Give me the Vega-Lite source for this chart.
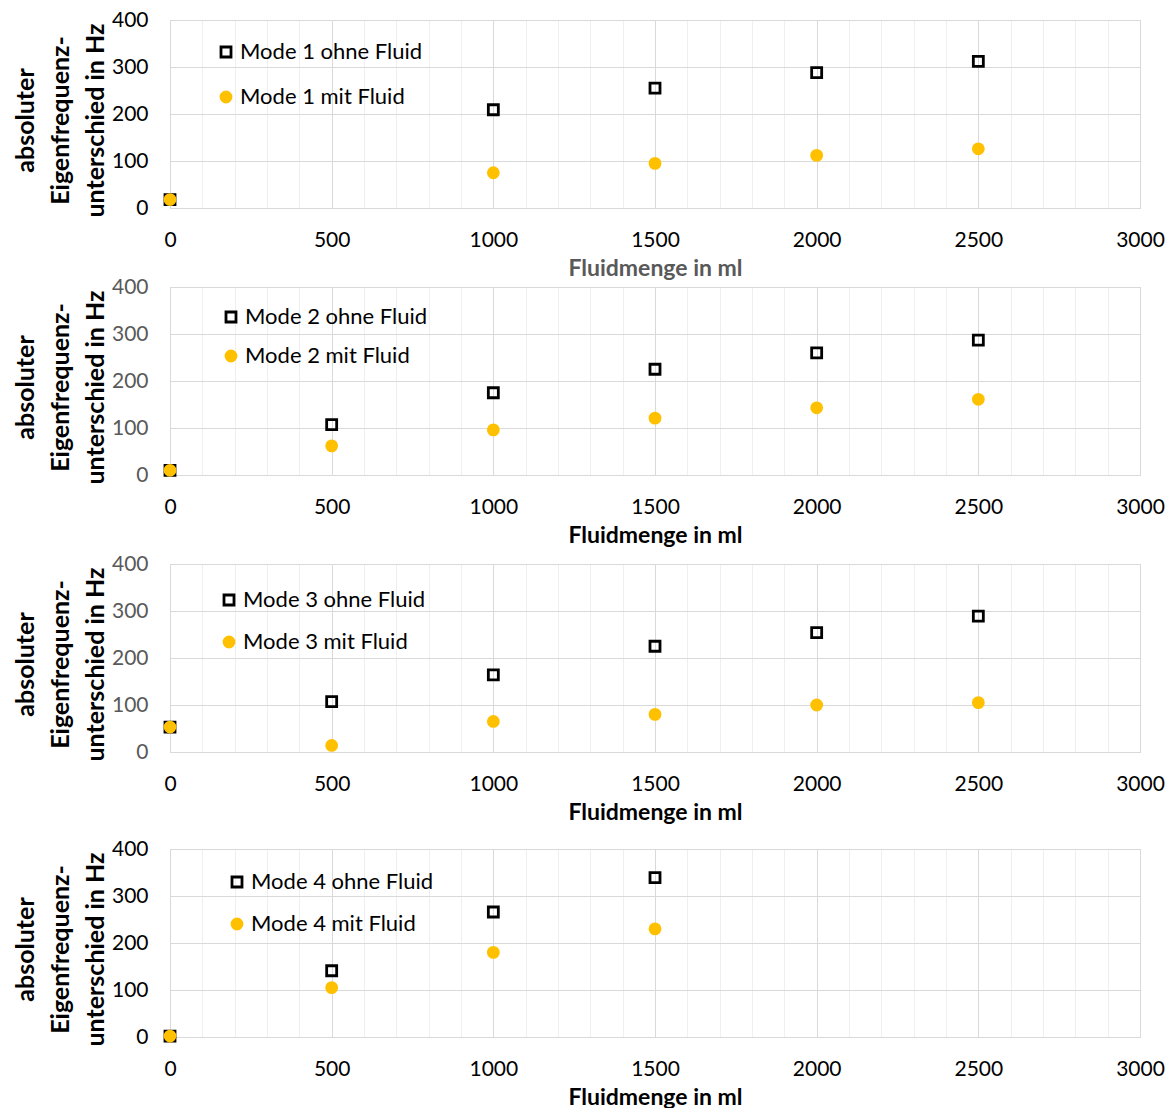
{
  "$schema": "https://vega.github.io/schema/vega-lite/v6.json",
  "padding": {"left": 12, "top": 8, "right": 4, "bottom": 0},
  "background": "white",
  "config": {
    "font": "Lato",
    "view": {"stroke": "#d9d9d9", "strokeWidth": 1},
    "axis": {
      "labelFont": "Lato",
      "labelFontSize": 21,
      "labelColor": "#000000",
      "labelOverlap": false,
      "labelFlush": false,
      "ticks": false,
      "domain": false,
      "titleFont": "Lato",
      "titleFontWeight": "bold",
      "titleColor": "#000000"
    },
    "axisX": {
      "values": [0,100,200,300,400,500,600,700,800,900,1000,1100,1200,1300,1400,1500,1600,1700,1800,1900,2000,2100,2200,2300,2400,2500,2600,2700,2800,2900,3000],
      "labelExpr": "datum.value % 500 === 0 ? format(datum.value, 'd') : ''",
      "gridColor": {"condition": {"test": "datum.value % 500 === 0", "value": "#d9d9d9"}, "value": "#efefef"},
      "labelPadding": 21,
      "titleFontSize": 23,
      "titlePadding": 7
    },
    "axisY": {
      "values": [0,20,40,60,80,100,120,140,160,180,200,220,240,260,280,300,320,340,360,380,400],
      "labelExpr": "datum.value % 100 === 0 ? datum.label : ''",
      "gridColor": {"condition": {"test": "datum.value % 100 === 0", "value": "#d9d9d9"}, "value": "#efefef"},
      "labelPadding": 22,
      "titleFontSize": 25,
      "titleLineHeight": 35,
      "titlePadding": 3,
      "titleY": 100
    },
    "legend": {
      "orient": "none",
      "title": null,
      "labelFont": "Lato",
      "labelFontSize": 22,
      "labelColor": "#000000",
      "labelLimit": 0,
      "symbolSize": 100,
      "symbolStrokeWidth": 2.8,
      "labelOffset": 3,
      "padding": 0
    }
  },
  "data": {
    "values": [
      {"panel": 1, "series": "Mode 1 ohne Fluid", "ml": 0, "hz": 18},
      {"panel": 1, "series": "Mode 1 ohne Fluid", "ml": 1000, "hz": 209},
      {"panel": 1, "series": "Mode 1 ohne Fluid", "ml": 1500, "hz": 255},
      {"panel": 1, "series": "Mode 1 ohne Fluid", "ml": 2000, "hz": 288},
      {"panel": 1, "series": "Mode 1 ohne Fluid", "ml": 2500, "hz": 312},
      {"panel": 1, "series": "Mode 1 mit Fluid", "ml": 0, "hz": 18},
      {"panel": 1, "series": "Mode 1 mit Fluid", "ml": 1000, "hz": 75},
      {"panel": 1, "series": "Mode 1 mit Fluid", "ml": 1500, "hz": 95},
      {"panel": 1, "series": "Mode 1 mit Fluid", "ml": 2000, "hz": 112},
      {"panel": 1, "series": "Mode 1 mit Fluid", "ml": 2500, "hz": 126},
      {"panel": 2, "series": "Mode 2 ohne Fluid", "ml": 0, "hz": 10},
      {"panel": 2, "series": "Mode 2 ohne Fluid", "ml": 500, "hz": 107},
      {"panel": 2, "series": "Mode 2 ohne Fluid", "ml": 1000, "hz": 175},
      {"panel": 2, "series": "Mode 2 ohne Fluid", "ml": 1500, "hz": 225},
      {"panel": 2, "series": "Mode 2 ohne Fluid", "ml": 2000, "hz": 260},
      {"panel": 2, "series": "Mode 2 ohne Fluid", "ml": 2500, "hz": 287},
      {"panel": 2, "series": "Mode 2 mit Fluid", "ml": 0, "hz": 10},
      {"panel": 2, "series": "Mode 2 mit Fluid", "ml": 500, "hz": 62},
      {"panel": 2, "series": "Mode 2 mit Fluid", "ml": 1000, "hz": 96},
      {"panel": 2, "series": "Mode 2 mit Fluid", "ml": 1500, "hz": 121},
      {"panel": 2, "series": "Mode 2 mit Fluid", "ml": 2000, "hz": 143},
      {"panel": 2, "series": "Mode 2 mit Fluid", "ml": 2500, "hz": 161},
      {"panel": 3, "series": "Mode 3 ohne Fluid", "ml": 0, "hz": 53},
      {"panel": 3, "series": "Mode 3 ohne Fluid", "ml": 500, "hz": 107},
      {"panel": 3, "series": "Mode 3 ohne Fluid", "ml": 1000, "hz": 164},
      {"panel": 3, "series": "Mode 3 ohne Fluid", "ml": 1500, "hz": 225},
      {"panel": 3, "series": "Mode 3 ohne Fluid", "ml": 2000, "hz": 254},
      {"panel": 3, "series": "Mode 3 ohne Fluid", "ml": 2500, "hz": 289},
      {"panel": 3, "series": "Mode 3 mit Fluid", "ml": 0, "hz": 53},
      {"panel": 3, "series": "Mode 3 mit Fluid", "ml": 500, "hz": 14},
      {"panel": 3, "series": "Mode 3 mit Fluid", "ml": 1000, "hz": 65},
      {"panel": 3, "series": "Mode 3 mit Fluid", "ml": 1500, "hz": 80},
      {"panel": 3, "series": "Mode 3 mit Fluid", "ml": 2000, "hz": 100},
      {"panel": 3, "series": "Mode 3 mit Fluid", "ml": 2500, "hz": 105},
      {"panel": 4, "series": "Mode 4 ohne Fluid", "ml": 0, "hz": 2},
      {"panel": 4, "series": "Mode 4 ohne Fluid", "ml": 500, "hz": 141},
      {"panel": 4, "series": "Mode 4 ohne Fluid", "ml": 1000, "hz": 266},
      {"panel": 4, "series": "Mode 4 ohne Fluid", "ml": 1500, "hz": 339},
      {"panel": 4, "series": "Mode 4 mit Fluid", "ml": 0, "hz": 2},
      {"panel": 4, "series": "Mode 4 mit Fluid", "ml": 500, "hz": 105},
      {"panel": 4, "series": "Mode 4 mit Fluid", "ml": 1000, "hz": 180},
      {"panel": 4, "series": "Mode 4 mit Fluid", "ml": 1500, "hz": 230}
    ]
  },
  "bounds": "full",
  "spacing": 4,
  "resolve": {
    "scale": {"x": "independent", "y": "independent", "shape": "independent", "fill": "independent", "stroke": "independent"},
    "legend": {"shape": "independent", "fill": "independent", "stroke": "independent"}
  },
  "vconcat": [
    {
      "bounds": "flush",
      "spacing": 79,
      "resolve": {
        "scale": {"x": "independent", "y": "independent", "shape": "independent", "fill": "independent", "stroke": "independent"},
        "legend": {"shape": "independent", "fill": "independent", "stroke": "independent"}
      },
      "vconcat": [
        {
          "width": 970,
          "height": 188,
          "transform": [{"filter": "datum.panel === 1"}],
          "mark": {"type": "point", "filled": true, "size": 100, "strokeWidth": 2.8, "opacity": 1},
          "encoding": {
            "x": {"field": "ml", "type": "quantitative", "scale": {"domain": [0, 3000], "nice": false},
                  "axis": {"title": "Fluidmenge in ml", "titleColor": "#595959"}},
            "y": {"field": "hz", "type": "quantitative", "scale": {"domain": [0, 400], "nice": false},
                  "axis": {"title": ["absoluter", "Eigenfrequenz-", "unterschied in Hz"]}},
            "shape": {"field": "series", "type": "nominal",
                      "scale": {"domain": ["Mode 1 ohne Fluid", "Mode 1 mit Fluid"], "range": ["square", "circle"]},
                      "legend": {"legendX": 45, "legendY": 21, "rowPadding": 23}},
            "fill": {"field": "series", "type": "nominal",
                     "scale": {"domain": ["Mode 1 ohne Fluid", "Mode 1 mit Fluid"], "range": ["transparent", "#ffc000"]}},
            "stroke": {"field": "series", "type": "nominal",
                       "scale": {"domain": ["Mode 1 ohne Fluid", "Mode 1 mit Fluid"], "range": ["#000000", "#ffc000"]}}
          }
        },
        {
          "width": 970,
          "height": 188,
          "transform": [{"filter": "datum.panel === 2"}],
          "mark": {"type": "point", "filled": true, "size": 100, "strokeWidth": 2.8, "opacity": 1},
          "encoding": {
            "x": {"field": "ml", "type": "quantitative", "scale": {"domain": [0, 3000], "nice": false},
                  "axis": {"title": "Fluidmenge in ml"}},
            "y": {"field": "hz", "type": "quantitative", "scale": {"domain": [0, 400], "nice": false},
                  "axis": {"title": ["absoluter", "Eigenfrequenz-", "unterschied in Hz"], "labelColor": "#595959"}},
            "shape": {"field": "series", "type": "nominal",
                      "scale": {"domain": ["Mode 2 ohne Fluid", "Mode 2 mit Fluid"], "range": ["square", "circle"]},
                      "legend": {"legendX": 50, "legendY": 19, "rowPadding": 17}},
            "fill": {"field": "series", "type": "nominal",
                     "scale": {"domain": ["Mode 2 ohne Fluid", "Mode 2 mit Fluid"], "range": ["transparent", "#ffc000"]}},
            "stroke": {"field": "series", "type": "nominal",
                       "scale": {"domain": ["Mode 2 ohne Fluid", "Mode 2 mit Fluid"], "range": ["#000000", "#ffc000"]}}
          }
        }
      ]
    },
    {
      "bounds": "flush",
      "spacing": 97,
      "resolve": {
        "scale": {"x": "independent", "y": "independent", "shape": "independent", "fill": "independent", "stroke": "independent"},
        "legend": {"shape": "independent", "fill": "independent", "stroke": "independent"}
      },
      "vconcat": [
        {
          "width": 970,
          "height": 188,
          "transform": [{"filter": "datum.panel === 3"}],
          "mark": {"type": "point", "filled": true, "size": 100, "strokeWidth": 2.8, "opacity": 1},
          "encoding": {
            "x": {"field": "ml", "type": "quantitative", "scale": {"domain": [0, 3000], "nice": false},
                  "axis": {"title": "Fluidmenge in ml"}},
            "y": {"field": "hz", "type": "quantitative", "scale": {"domain": [0, 400], "nice": false},
                  "axis": {"title": ["absoluter", "Eigenfrequenz-", "unterschied in Hz"], "labelColor": "#595959"}},
            "shape": {"field": "series", "type": "nominal",
                      "scale": {"domain": ["Mode 3 ohne Fluid", "Mode 3 mit Fluid"], "range": ["square", "circle"]},
                      "legend": {"legendX": 48, "legendY": 25, "rowPadding": 20}},
            "fill": {"field": "series", "type": "nominal",
                     "scale": {"domain": ["Mode 3 ohne Fluid", "Mode 3 mit Fluid"], "range": ["transparent", "#ffc000"]}},
            "stroke": {"field": "series", "type": "nominal",
                       "scale": {"domain": ["Mode 3 ohne Fluid", "Mode 3 mit Fluid"], "range": ["#000000", "#ffc000"]}}
          }
        },
        {
          "width": 970,
          "height": 188,
          "transform": [{"filter": "datum.panel === 4"}],
          "mark": {"type": "point", "filled": true, "size": 100, "strokeWidth": 2.8, "opacity": 1},
          "encoding": {
            "x": {"field": "ml", "type": "quantitative", "scale": {"domain": [0, 3000], "nice": false},
                  "axis": {"title": "Fluidmenge in ml"}},
            "y": {"field": "hz", "type": "quantitative", "scale": {"domain": [0, 400], "nice": false},
                  "axis": {"title": ["absoluter", "Eigenfrequenz-", "unterschied in Hz"]}},
            "shape": {"field": "series", "type": "nominal",
                      "scale": {"domain": ["Mode 4 ohne Fluid", "Mode 4 mit Fluid"], "range": ["square", "circle"]},
                      "legend": {"legendX": 56, "legendY": 22, "rowPadding": 20}},
            "fill": {"field": "series", "type": "nominal",
                     "scale": {"domain": ["Mode 4 ohne Fluid", "Mode 4 mit Fluid"], "range": ["transparent", "#ffc000"]}},
            "stroke": {"field": "series", "type": "nominal",
                       "scale": {"domain": ["Mode 4 ohne Fluid", "Mode 4 mit Fluid"], "range": ["#000000", "#ffc000"]}}
          }
        }
      ]
    }
  ]
}
